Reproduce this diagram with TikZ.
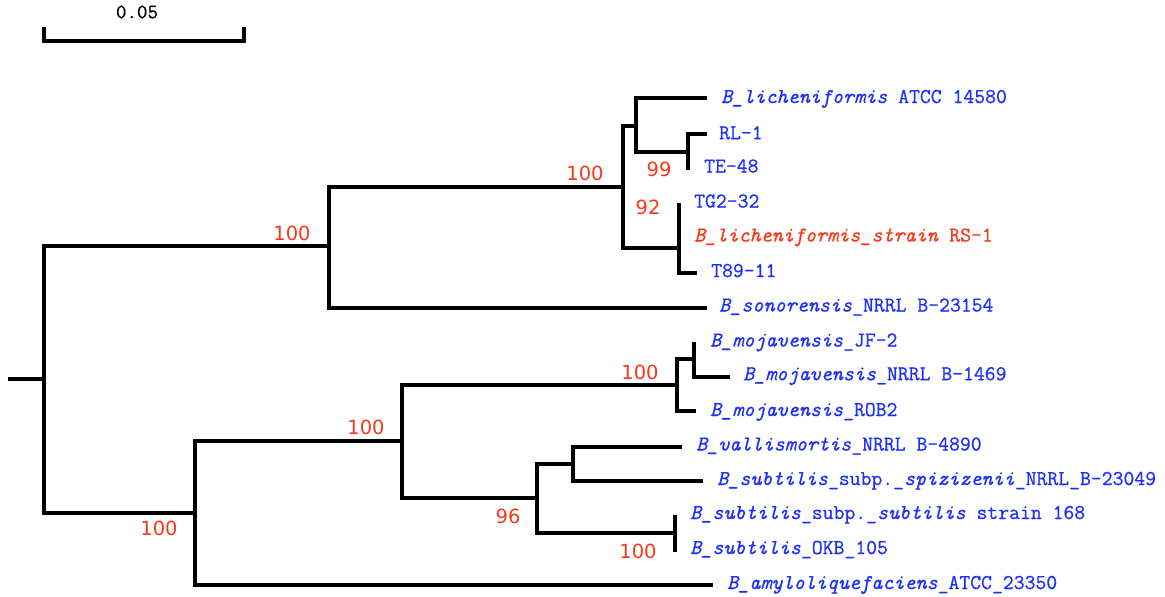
\documentclass[tikz,border=0pt]{standalone}
\usepackage{fontspec}
\newfontfamily\bootfont{DejaVu Sans}
\newfontfamily\leafmono[FakeBold=0.7]{Latin Modern Mono}
\usepackage{xcolor}

\definecolor{leafblue}{RGB}{28,48,250}
\definecolor{bootred}{RGB}{250,55,25}

\begin{document}
\begin{tikzpicture}[x=1pt, y=-1pt]

% Define styles for the tree
\tikzstyle{branch} = [line width=3.6pt, miter limit=4]
\tikzstyle{leaf} = [anchor=west, inner sep=0pt, text height=11pt, text depth=0pt,
  text=leafblue, font=\leafmono\fontsize{21.1}{23}\selectfont]
\tikzstyle{query} = [leaf, text=bootred]
\tikzstyle{boot} = [inner sep=0pt, text=bootred, font=\bootfont\fontsize{19.5}{21}\selectfont]

\useasboundingbox (0,0) rectangle (1165,597);

% Scale bar
\draw[branch] (44,27) -- (44,41) -- (244,41) -- (244,27);
\node[inner sep=0pt, font=\leafmono\fontsize{20.4}{22}\selectfont] (scale) at (137,12) {0.05};

% Internal nodes
\coordinate (stub) at (8,379);
\coordinate (root) at (44,379);
\coordinate (nA) at (329,246);
\coordinate (nB) at (623,187);
\coordinate (nC) at (636,126);
\coordinate (nD) at (688,152);
\coordinate (nE) at (679,248);
\coordinate (nF) at (195,513);
\coordinate (nG) at (402,441);
\coordinate (nH) at (677,385);
\coordinate (nI) at (694,359);
\coordinate (nJ) at (537,498);
\coordinate (nK) at (573,464);
\coordinate (nL) at (675,533);

% Leaf tips
\coordinate (lich) at (707,98);
\coordinate (rl1) at (707,134);
\coordinate (te48) at (688,170);
\coordinate (tg232) at (679,203);
\coordinate (rs1) at (679,238);
\coordinate (t8911) at (697,273);
\coordinate (sonor) at (707,308);
\coordinate (mojjf) at (694,342);
\coordinate (mojnrrl) at (730,377);
\coordinate (mojrob) at (696,411);
\coordinate (valli) at (682,447);
\coordinate (spiz) at (703,481);
\coordinate (sub168) at (675,515);
\coordinate (okb) at (675,552);
\coordinate (amylo) at (713,585);

% Branches
\draw[branch] (stub) -- (root);
\draw[branch] (root) |- (nA);
\draw[branch] (root) |- (nF);
\draw[branch] (nA) |- (nB);
\draw[branch] (nA) |- (sonor);
\draw[branch] (nB) |- (nC);
\draw[branch] (nB) |- (nE);
\draw[branch] (nC) |- (lich);
\draw[branch] (nC) |- (nD);
\draw[branch] (nD) |- (rl1);
\draw[branch] (nD) |- (te48);
\draw[branch] (nE) |- (tg232);
\draw[branch] (nE) |- (rs1);
\draw[branch] (nE) |- (t8911);
\draw[branch] (nF) |- (nG);
\draw[branch] (nF) |- (amylo);
\draw[branch] (nG) |- (nH);
\draw[branch] (nG) |- (nJ);
\draw[branch] (nH) |- (nI);
\draw[branch] (nH) |- (mojrob);
\draw[branch] (nI) |- (mojjf);
\draw[branch] (nI) |- (mojnrrl);
\draw[branch] (nJ) |- (nK);
\draw[branch] (nJ) |- (nL);
\draw[branch] (nK) |- (valli);
\draw[branch] (nK) |- (spiz);
\draw[branch] (nL) |- (sub168);
\draw[branch] (nL) |- (okb);

% Bootstrap values
\node[boot] (bA) at (292,233) {100};
\node[boot] (bB) at (585,173) {100};
\node[boot] (bD) at (659,169) {99};
\node[boot] (bE) at (648,207) {92};
\node[boot] (bF) at (159,528) {100};
\node[boot] (bG) at (366,427) {100};
\node[boot] (bH) at (640,372) {100};
\node[boot] (bJ) at (508,516) {96};
\node[boot] (bL) at (638,551) {100};

% Taxon labels
\node[leaf] (lab-lich) at (721,97.5) {\textit{B\_licheniformis} ATCC 14580};
\node[leaf] (lab-rl1) at (719,133.7) {RL-1};
\node[leaf] (lab-te48) at (704,167) {TE-48};
\node[leaf] (lab-tg232) at (694,202) {TG2-32};
\node[query] (lab-rs1) at (694,236) {\textit{B\_licheniformis\_strain} RS-1};
\node[leaf] (lab-t8911) at (711,271.5) {T89-11};
\node[leaf] (lab-sonor) at (719,306) {\textit{B\_sonorensis}\_NRRL B-23154};
\node[leaf] (lab-mojjf) at (710,341) {\textit{B\_mojavensis}\_JF-2};
\node[leaf] (lab-mojnrrl) at (743,374.7) {\textit{B\_mojavensis}\_NRRL B-1469};
\node[leaf] (lab-mojrob) at (710,410.5) {\textit{B\_mojavensis}\_ROB2};
\node[leaf] (lab-valli) at (696,445) {\textit{B\_vallismortis}\_NRRL B-4890};
\node[leaf] (lab-spiz) at (717,479.5) {\textit{B\_subtilis}\_subp.\_\textit{spizizenii}\_NRRL\_B-23049};
\node[leaf] (lab-sub168) at (690,513.5) {\textit{B\_subtilis}\_subp.\_\textit{subtilis} strain 168};
\node[leaf] (lab-okb) at (690,548.5) {\textit{B\_subtilis}\_OKB\_105};
\node[leaf] (lab-amylo) at (727,583.5) {\textit{B\_amyloliquefaciens}\_ATCC\_23350};

\end{tikzpicture}
\end{document}
